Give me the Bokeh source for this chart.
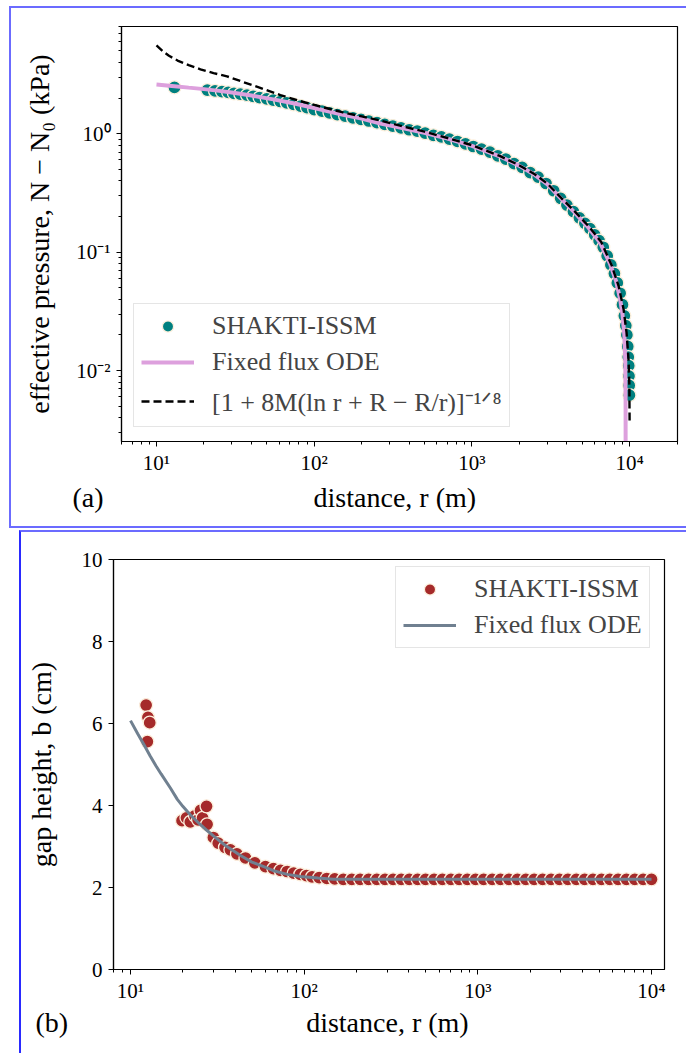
from bokeh.plotting import figure
from bokeh.layouts import column, row
from bokeh.models import (Legend, LegendItem, FixedTicker, CustomJSTickFormatter,
                          Range1d, InlineStyleSheet, Title)
from bokeh.embed import file_html
from bokeh.resources import INLINE

SERIF = "Liberation Serif"

# ---- panel (a): effective pressure N - N0 (kPa) against distance r (m) ----
shakti_r = [13, 21, 23.5, 26, 28.5, 31, 34, 37.5, 41, 45, 50, 55, 61, 67, 74, 82, 90,
            100, 112, 125, 140, 157, 176, 198, 222, 250, 280, 315, 355, 400, 450, 505,
            570, 640, 720, 810, 910, 1020, 1150, 1300, 1460, 1640, 1850, 2080, 2340,
            2630, 2950, 3300, 3650, 4000, 4400, 4800, 5200, 5600, 6000, 6400, 6800,
            7200, 7600, 8000, 8350, 8700, 9000, 9250, 9450, 9600, 9720, 9800, 9860,
            9900, 9930, 9960]
shakti_N = [2.46, 2.33, 2.30, 2.27, 2.23, 2.19, 2.16, 2.12, 2.07, 2.02, 1.97, 1.92, 1.87,
            1.82, 1.77, 1.71, 1.66, 1.60, 1.55, 1.50, 1.45, 1.41, 1.36, 1.32, 1.28, 1.24,
            1.20, 1.16, 1.12, 1.08, 1.05, 1.01, 0.97, 0.94, 0.90, 0.86, 0.82, 0.78, 0.74,
            0.70, 0.65, 0.61, 0.56, 0.52, 0.47, 0.43, 0.38, 0.33, 0.285, 0.25, 0.22,
            0.195, 0.175, 0.158, 0.14, 0.125, 0.11, 0.093, 0.078, 0.066, 0.055, 0.045,
            0.036, 0.029, 0.024, 0.020, 0.016, 0.013, 0.011, 0.009, 0.0075, 0.0062]

ode_r = [10, 13, 16, 20, 25, 30, 40, 55, 75, 100, 150, 200, 263, 350, 500, 700, 1000,
         1500, 2000, 2500, 3000, 3700, 4500, 5500, 6500, 7500, 8200, 8700, 9000, 9250,
         9380, 9420, 9430]
ode_N = [2.6, 2.52, 2.45, 2.38, 2.3, 2.23, 2.1, 1.95, 1.8, 1.65, 1.45, 1.34, 1.22, 1.13,
         1.02, 0.91, 0.79, 0.645, 0.535, 0.45, 0.375, 0.28, 0.215, 0.16, 0.12, 0.08,
         0.057, 0.04, 0.03, 0.02, 0.012, 0.006, 0.001]

approx_r = [10, 11, 12, 13.6, 16, 19, 23, 28, 35, 45, 61, 80, 100, 150, 200, 263, 350,
            500, 700, 1000, 1500, 2000, 2500, 3000, 3700, 4500, 5500, 6600, 7700, 8500,
            9150, 9550, 9850, 9950, 9990]
approx_N = [5.56, 4.95, 4.55, 4.15, 3.8, 3.5, 3.25, 3.05, 2.75, 2.45, 2.12, 1.9, 1.75,
            1.52, 1.4, 1.29, 1.17, 1.04, 0.92, 0.8, 0.65, 0.54, 0.455, 0.38, 0.285, 0.22,
            0.165, 0.122, 0.077, 0.052, 0.033, 0.021, 0.012, 0.0075, 0.0037]

# ---- panel (b): gap height b (cm) against distance r (m) ----
gap_r = [12.3, 12.6, 12.9, 12.5, 19.8, 21, 22.1, 23.5, 24.5, 25.3, 26, 27.4, 27.6,
         30, 32, 35, 37.6, 41, 45.9, 52, 59.8, 66.5, 73, 79.8, 87, 95, 103, 111, 122,
         135, 150, 168, 188, 210, 235, 262, 292, 325, 362, 403, 450, 500, 560, 625,
         700, 780, 870, 970, 1080, 1210, 1350, 1510, 1690, 1890, 2110, 2360, 2640,
         2950, 3300, 3690, 4120, 4600, 5150, 5750, 6420, 7170, 8010, 8950, 10000]
gap_b = [6.45, 6.15, 6.02, 5.56, 3.63, 3.7, 3.6, 3.75, 3.65, 3.88, 3.7, 3.98, 3.54,
         3.22, 3.08, 2.98, 2.92, 2.82, 2.72, 2.6, 2.51, 2.46, 2.42, 2.39, 2.35, 2.32,
         2.29, 2.26, 2.24, 2.22, 2.21, 2.2, 2.2, 2.2, 2.2, 2.2, 2.2, 2.2, 2.2, 2.2, 2.2,
         2.2, 2.2, 2.2, 2.2, 2.2, 2.2, 2.2, 2.2, 2.2, 2.2, 2.2, 2.2, 2.2, 2.2, 2.2, 2.2,
         2.2, 2.2, 2.2, 2.2, 2.2, 2.2, 2.2, 2.2, 2.2, 2.2, 2.2, 2.2]

gap_ode_r = [10, 11, 12, 13, 14, 15, 17, 18.6, 20, 22, 25, 27.6, 30, 35, 43, 50, 60,
             66.5, 80, 95, 120, 147, 200, 1000, 10000]
gap_ode_b = [6.07, 5.75, 5.47, 5.2, 4.97, 4.77, 4.42, 4.15, 3.98, 3.78, 3.55, 3.39, 3.26,
             3.03, 2.78, 2.62, 2.49, 2.41, 2.32, 2.27, 2.23, 2.2, 2.2, 2.2, 2.2]

# ---- tick positions and labels ----
distance_ticks = [10, 100, 1000, 10000]
distance_tick_labels = ["10¹", "10²", "10³", "10⁴"]
pressure_ticks = [0.01, 0.1, 1]
pressure_tick_labels = ["10⁻²", "10⁻¹", "10⁰"]
gap_ticks = [0, 2, 4, 6, 8, 10]
gap_tick_labels = ["0", "2", "4", "6", "8", "10"]

TEAL = "#008080"
BROWN = "#a52a2a"
EDGE = "#fcefdc"
PLUM = "#dda0dd"
SLATE = "#708090"
NBSP = "\u00a0"


def log_minors(lo, hi):
    return [m * 10.0 ** e for e in range(lo, hi) for m in range(2, 10)]


def tick_labels(vals, labels):
    return CustomJSTickFormatter(args=dict(vals=vals, labels=labels), code="""
        for (let i = 0; i < vals.length; i++) {
            if (Math.abs(vals[i] - tick) <= 1e-9 * Math.max(1, Math.abs(tick))) {
                return labels[i];
            }
        }
        return "";
    """)


def x_title(tag, text, gap, offset, standoff):
    # panel tag and x-axis title share one line below the tick labels
    return Title(text=tag + NBSP * gap + text, align="left", offset=offset,
                 vertical_align="top", standoff=standoff, text_font=SERIF,
                 text_font_size="28px", text_font_style="normal", text_color="black")


def style(p):
    p.title.visible = False
    p.outline_line_color = "black"
    p.outline_line_width = 1.2
    p.xgrid.visible = False
    p.ygrid.visible = False
    p.background_fill_color = "white"
    p.border_fill_color = "white"
    for ax in (p.xaxis[0], p.yaxis[0]):
        ax.axis_line_color = "black"
        ax.axis_line_width = 1.2
        ax.major_tick_line_color = "black"
        ax.minor_tick_line_color = "black"
        ax.major_tick_out = 5
        ax.major_tick_in = 0
        ax.minor_tick_out = 3
        ax.minor_tick_in = 0
        ax.major_label_text_font = SERIF
        ax.major_label_text_font_size = "21px"
        ax.major_label_text_color = "black"
        ax.axis_label_text_font = SERIF
        ax.axis_label_text_font_size = "28px"
        ax.axis_label_text_font_style = "normal"
        ax.axis_label_text_color = "black"


def legend(items, loc):
    return Legend(items=items, location=loc, margin=0, padding=7, spacing=6,
                  label_height=28, glyph_height=28, glyph_width=53, label_standoff=18,
                  label_text_font=SERIF, label_text_font_size="26px",
                  border_line_color="#cccccc", border_line_width=1.2,
                  background_fill_color="white", background_fill_alpha=0.8)


def panel_box(css_box):
    return InlineStyleSheet(css=""":host { position: relative; }
:host::after { content: ""; position: absolute; pointer-events: none;
  box-sizing: border-box; z-index: 5; %s }""" % css_box)


# ---------------- panel (a) ----------------
p1 = figure(width=686, height=528, x_axis_type="log", y_axis_type="log",
            x_range=Range1d(6.0, 2.01e4), y_range=Range1d(0.00252, 8.04),
            output_backend="svg", toolbar_location=None,
            min_border_left=121, min_border_right=9, min_border_top=26,
            min_border_bottom=87)
style(p1)
p1.xaxis.ticker = FixedTicker(ticks=distance_ticks, minor_ticks=log_minors(0, 5))
p1.xaxis.formatter = tick_labels(distance_ticks, distance_tick_labels)
p1.yaxis.ticker = FixedTicker(ticks=pressure_ticks, minor_ticks=log_minors(-3, 1))
p1.yaxis.formatter = tick_labels(pressure_ticks, pressure_tick_labels)
p1.yaxis.axis_label = "effective pressure, N − N₀ (kPa)"
p1.xaxis.major_label_standoff = 4
p1.yaxis.major_label_standoff = 6
p1.yaxis.axis_label_standoff = 18
p1.add_layout(x_title("(a)", "distance, r (m)", 30, -49, 8), "below")

pts1 = p1.scatter(shakti_r, shakti_N, size=13, fill_color=TEAL, line_color=EDGE,
                  line_width=1.3)
ode1 = p1.line(ode_r, ode_N, line_color=PLUM, line_width=4)
apx1 = p1.line(approx_r, approx_N, line_color="black", line_width=2.4, line_dash="8 4")

p1.add_layout(legend([
    LegendItem(label="SHAKTI-ISSM", renderers=[pts1]),
    LegendItem(label="Fixed flux ODE", renderers=[ode1]),
    LegendItem(label="[1 + 8M(ln r + R − R/r)]⁻¹ᐟ⁸", renderers=[apx1]),
], (12, 14)))

# ---------------- panel (b) ----------------
p2 = figure(width=686, height=525, x_axis_type="log",
            x_range=Range1d(7.98, 1.188e4), y_range=Range1d(0, 10),
            output_backend="svg", toolbar_location=None,
            min_border_left=113, min_border_right=22, min_border_top=31,
            min_border_bottom=84)
style(p2)
p2.xaxis.ticker = FixedTicker(ticks=distance_ticks, minor_ticks=log_minors(0, 5))
p2.xaxis.formatter = tick_labels(distance_ticks, distance_tick_labels)
p2.yaxis.ticker = FixedTicker(ticks=gap_ticks, minor_ticks=[])
p2.yaxis.formatter = tick_labels(gap_ticks, gap_tick_labels)
p2.yaxis.axis_label = "gap height, b (cm)"
p2.xaxis.major_label_standoff = 4
p2.yaxis.major_label_standoff = 6
p2.yaxis.axis_label_standoff = 22
p2.add_layout(x_title("(b)", "distance, r (m)", 34, -78, 2), "below")

pts2 = p2.scatter(gap_r, gap_b, size=13, fill_color=BROWN, line_color=EDGE,
                  line_width=1.3)
ode2 = p2.line(gap_ode_r, gap_ode_b, line_color=SLATE, line_width=3)

p2.add_layout(legend([
    LegendItem(label="SHAKTI-ISSM", renderers=[pts2]),
    LegendItem(label="Fixed flux ODE", renderers=[ode2]),
], (282, 321)))

box_a = panel_box("left: 9px; top: 6px; right: 0; height: 522px; "
                  "border: 2px solid #6b6bff; border-right: none;")
box_b = panel_box("left: 19px; top: 2px; right: 0; bottom: 0; "
                  "border-top: 2px solid #6b6bff; border-left: 2px solid #2a2aff;")

layout = column(row(p1, stylesheets=[box_a]), row(p2, stylesheets=[box_b]), spacing=0)
open("out.html", "w").write(file_html(layout, INLINE))
